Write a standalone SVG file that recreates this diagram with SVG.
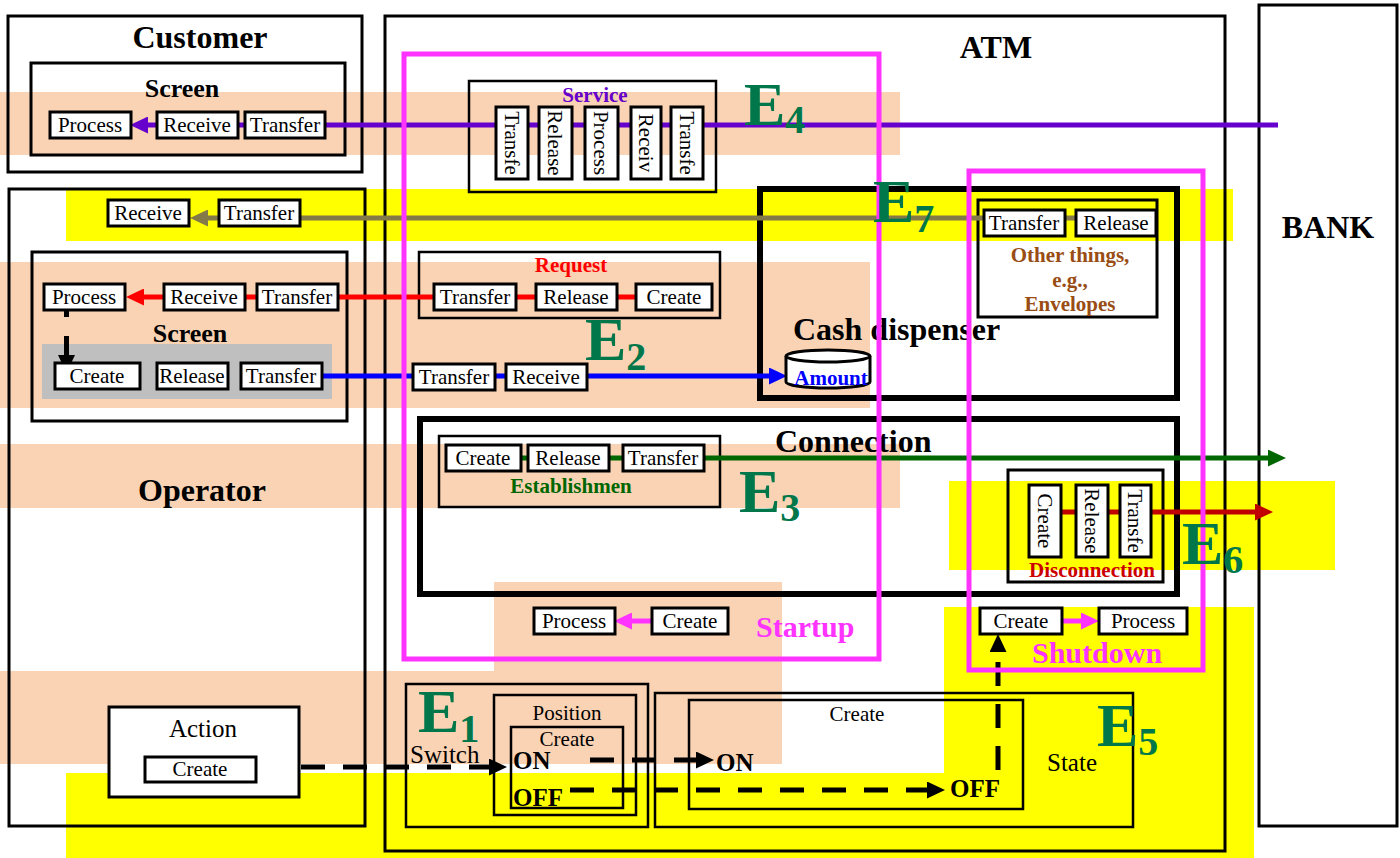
<svg xmlns="http://www.w3.org/2000/svg" width="1400" height="858" viewBox="0 0 1400 858" font-family="'Liberation Serif', 'DejaVu Serif', serif">
<style>
text, tspan{font-family:'Liberation Serif','DejaVu Serif',serif}
.peach{fill:#F9D3B3}
.yel{fill:#FFFF00}
.c{fill:none;stroke:#000;stroke-width:3}
.thin{fill:none;stroke:#000;stroke-width:2.5}
.thick{fill:none;stroke:#000;stroke-width:6}
.mag{fill:none;stroke:#FF33FF;stroke-width:5}
.b{fill:#fff;stroke:#000;stroke-width:3}
.t{font-size:21px;text-anchor:middle;fill:#000}
.v{font-size:21px;text-anchor:middle;dominant-baseline:central;fill:#000}
.ttl{font-size:32px;font-weight:bold;fill:#000}
.mid{text-anchor:middle}
.lab{font-size:21px;font-weight:bold;text-anchor:middle}
.E{font-size:62px;font-weight:bold;fill:#00774A}
.S{font-size:40px;font-weight:bold;fill:#00774A}
.oo{font-size:25px;font-weight:bold;fill:#000}
.ln{fill:none;stroke-width:5}
.dash{fill:none;stroke:#000;stroke-width:5;stroke-dasharray:24 18}
</style>
<defs>
<marker id="aP" viewBox="0 0 18 17" markerWidth="18" markerHeight="17" refX="4" refY="8.5" orient="auto" markerUnits="userSpaceOnUse"><path d="M0,0L18,8.5L0,17z" fill="#6600CC"/></marker>
<marker id="aO" viewBox="0 0 18 17" markerWidth="18" markerHeight="17" refX="4" refY="8.5" orient="auto" markerUnits="userSpaceOnUse"><path d="M0,0L18,8.5L0,17z" fill="#847A47"/></marker>
<marker id="aR" viewBox="0 0 18 17" markerWidth="18" markerHeight="17" refX="4" refY="8.5" orient="auto" markerUnits="userSpaceOnUse"><path d="M0,0L18,8.5L0,17z" fill="#FF0000"/></marker>
<marker id="aB" viewBox="0 0 18 17" markerWidth="18" markerHeight="17" refX="4" refY="8.5" orient="auto" markerUnits="userSpaceOnUse"><path d="M0,0L18,8.5L0,17z" fill="#0000FF"/></marker>
<marker id="aG" viewBox="0 0 18 17" markerWidth="18" markerHeight="17" refX="4" refY="8.5" orient="auto" markerUnits="userSpaceOnUse"><path d="M0,0L18,8.5L0,17z" fill="#006600"/></marker>
<marker id="aD" viewBox="0 0 18 17" markerWidth="18" markerHeight="17" refX="4" refY="8.5" orient="auto" markerUnits="userSpaceOnUse"><path d="M0,0L18,8.5L0,17z" fill="#C00000"/></marker>
<marker id="aM" viewBox="0 0 18 17" markerWidth="18" markerHeight="17" refX="4" refY="8.5" orient="auto" markerUnits="userSpaceOnUse"><path d="M0,0L18,8.5L0,17z" fill="#FF33FF"/></marker>
<marker id="aK" viewBox="0 0 18 17" markerWidth="18" markerHeight="17" refX="4" refY="8.5" orient="auto" markerUnits="userSpaceOnUse"><path d="M0,0L18,8.5L0,17z" fill="#000"/></marker>
</defs>
<rect width="1400" height="858" fill="#fff"/>
<g id="bands">
<rect class="peach" x="0" y="92" width="900" height="63"/>
<rect class="yel" x="66" y="189" width="1167" height="52"/>
<rect class="peach" x="0" y="262" width="870" height="146"/>
<rect class="peach" x="0" y="444" width="900" height="64"/>
<rect class="peach" x="494" y="582" width="288" height="182"/>
<rect class="peach" x="0" y="671" width="782" height="93"/>
<rect class="yel" x="949" y="481" width="386" height="89"/>
<rect class="yel" x="944" y="607" width="310" height="251"/>
<rect class="yel" x="66" y="773" width="1188" height="85"/>
</g>
<g id="containers">
<g id="customer"><rect class="c" x="8" y="16" width="354" height="156"/><text class="ttl mid" x="200" y="48">Customer</text></g>
<g id="customer-screen"><rect class="c" x="31" y="63" width="314" height="92"/><text class="ttl mid" x="182" y="97" style="font-size:26px">Screen</text></g>
<g id="operator"><rect class="c" x="9" y="189" width="356" height="637"/><text class="ttl mid" x="202" y="501">Operator</text></g>
<g id="operator-screen"><rect class="c" x="32" y="252" width="315" height="169"/><rect x="42" y="344" width="290" height="55" fill="#BFBFBF"/><text class="ttl mid" x="190" y="342" style="font-size:26px">Screen</text></g>
<g id="atm"><rect class="c" x="385" y="16" width="840" height="835"/><text class="ttl mid" x="996" y="58">ATM</text></g>
<g id="bank"><rect class="c" x="1259" y="5" width="138" height="821"/><text class="ttl mid" x="1328" y="238">BANK</text></g>
<g id="service"><rect class="thin" x="469" y="81" width="247" height="111"/><text class="lab" x="595" y="102" fill="#6600CC">Service</text></g>
<g id="cash-dispenser"><rect class="thick" x="760" y="189" width="417" height="209"/><text class="ttl" x="793" y="340">Cash dispenser</text></g>
<g id="other-things"><rect class="c" x="978" y="200" width="179" height="117"/><text class="lab" fill="#994D14"><tspan x="1070" y="262">Other things,</tspan><tspan x="1070" y="287">e.g.,</tspan><tspan x="1070" y="311">Envelopes</tspan></text></g>
<g id="request"><rect class="thin" x="419" y="252" width="301" height="66"/><text class="lab" x="571" y="272" fill="#FF0000">Request</text></g>
<g id="connection"><rect class="thick" x="420" y="419" width="757" height="175"/><text class="ttl" x="775" y="452">Connection</text></g>
<g id="establishment"><rect class="thin" x="439" y="436" width="281" height="71"/><text class="lab" x="571" y="493" fill="#006600">Establishmen</text></g>
<g id="disconnection"><rect class="c" x="1008" y="470" width="155" height="112"/><text class="lab" x="1092" y="577" fill="#CC0000">Disconnection</text></g>
<g id="action"><rect class="b" x="109" y="707" width="190" height="90"/><text class="t" x="203" y="737" style="font-size:25px">Action</text></g>
<g id="switch"><rect class="thin" x="406" y="684" width="242" height="143"/><text x="410" y="763" style="font-size:25px">Switch</text></g>
<g id="position"><rect class="thin" x="494" y="695" width="142" height="120"/><text class="t" x="567" y="720">Position</text></g>
<g id="position-create"><rect class="thin" x="511" y="727" width="112" height="81"/><text class="t" x="567" y="746">Create</text><text class="oo" x="513" y="769">ON</text><text class="oo" x="513" y="806">OFF</text></g>
<g id="state"><rect class="thin" x="655" y="693" width="478" height="134"/><text x="1047" y="771" style="font-size:25px">State</text></g>
<g id="state-create"><rect class="thin" x="689" y="700" width="334" height="109"/><text class="t" x="857" y="721">Create</text><text class="oo" x="716" y="771">ON</text><text class="oo" x="950" y="797">OFF</text></g>
</g>
<g id="connectors">
<line class="ln" x1="1278" y1="125" x2="144" y2="125" stroke="#6600CC" marker-end="url(#aP)"/>
<line class="ln" x1="1076" y1="218" x2="204" y2="218" stroke="#847A47" marker-end="url(#aO)"/>
<line class="ln" x1="636" y1="297" x2="140" y2="297" stroke="#FF0000" marker-end="url(#aR)"/>
<line class="ln" x1="322" y1="376" x2="773" y2="376" stroke="#0000FF" marker-end="url(#aB)"/>
<line class="ln" x1="521" y1="458" x2="1272" y2="458" stroke="#006600" marker-end="url(#aG)"/>
<line class="ln" x1="1061" y1="512" x2="1259" y2="512" stroke="#C00000" marker-end="url(#aD)"/>
<line class="ln" x1="652" y1="621" x2="628" y2="621" stroke="#FF33FF" marker-end="url(#aM)"/>
<line class="ln" x1="1062" y1="621" x2="1085" y2="621" stroke="#FF33FF" marker-end="url(#aM)"/>
<line class="dash" x1="301" y1="767" x2="493" y2="767" marker-end="url(#aK)"/>
<line class="dash" x1="590" y1="760" x2="700" y2="760" marker-end="url(#aK)"/>
<line class="dash" x1="570" y1="790" x2="931" y2="790" marker-end="url(#aK)"/>
<line class="dash" x1="998" y1="770" x2="998" y2="648" marker-end="url(#aK)"/>
<line fill="none" stroke="#000" stroke-width="5" stroke-dasharray="7 19 40" x1="66.5" y1="310" x2="66.5" y2="359" marker-end="url(#aK)"/>
</g>
<g id="amount"><path d="M786,356v26a42,6 0 0 0 84,0v-26" fill="#fff" stroke="#000" stroke-width="3"/><ellipse cx="828" cy="356" rx="42" ry="6" fill="#fff" stroke="#000" stroke-width="3"/><text class="lab" x="831" y="385" fill="#0000FF">Amount</text></g>
<g id="cust-process"><rect class="b" x="50" y="112" width="81" height="26"/><text class="t" x="90" y="132">Process</text></g>
<g id="cust-receive"><rect class="b" x="157" y="112" width="81" height="26"/><text class="t" x="197" y="132">Receive</text></g>
<g id="cust-transfer"><rect class="b" x="245" y="112" width="80" height="26"/><text class="t" x="285" y="132">Transfer</text></g>
<g id="op-receive"><rect class="b" x="108" y="200" width="81" height="26"/><text class="t" x="148" y="220">Receive</text></g>
<g id="op-transfer"><rect class="b" x="219" y="200" width="81" height="26"/><text class="t" x="259" y="220">Transfer</text></g>
<g id="ops-process"><rect class="b" x="44" y="284" width="81" height="26"/><text class="t" x="84" y="304">Process</text></g>
<g id="ops-receive"><rect class="b" x="164" y="284" width="81" height="26"/><text class="t" x="204" y="304">Receive</text></g>
<g id="ops-transfer"><rect class="b" x="257" y="284" width="81" height="26"/><text class="t" x="297" y="304">Transfer</text></g>
<g id="ops-create"><rect class="b" x="55" y="363" width="85" height="26"/><text class="t" x="97" y="383">Create</text></g>
<g id="ops-release"><rect class="b" x="157" y="363" width="71" height="26"/><text class="t" x="192" y="383">Release</text></g>
<g id="ops-transfer2"><rect class="b" x="241" y="363" width="81" height="26"/><text class="t" x="281" y="383">Transfer</text></g>
<g id="svc-1"><rect class="b" x="496" y="107" width="32" height="72"/><text class="v" transform="translate(512,143) rotate(90)">Transfe</text></g>
<g id="svc-2"><rect class="b" x="539" y="107" width="33" height="72"/><text class="v" transform="translate(555,143) rotate(90)">Release</text></g>
<g id="svc-3"><rect class="b" x="585" y="107" width="33" height="72"/><text class="v" transform="translate(601,143) rotate(90)">Process</text></g>
<g id="svc-4"><rect class="b" x="631" y="107" width="30" height="72"/><text class="v" transform="translate(646,143) rotate(90)">Receiv</text></g>
<g id="svc-5"><rect class="b" x="671" y="107" width="32" height="72"/><text class="v" transform="translate(687,143) rotate(90)">Transfe</text></g>
<g id="ot-transfer"><rect class="b" x="984" y="210" width="81" height="26"/><text class="t" x="1024" y="230">Transfer</text></g>
<g id="ot-release"><rect class="b" x="1076" y="210" width="80" height="26"/><text class="t" x="1116" y="230">Release</text></g>
<g id="req-transfer"><rect class="b" x="434" y="284" width="82" height="26"/><text class="t" x="475" y="304">Transfer</text></g>
<g id="req-release"><rect class="b" x="536" y="284" width="81" height="26"/><text class="t" x="576" y="304">Release</text></g>
<g id="req-create"><rect class="b" x="636" y="284" width="76" height="26"/><text class="t" x="674" y="304">Create</text></g>
<g id="blue-transfer"><rect class="b" x="413" y="364" width="82" height="26"/><text class="t" x="454" y="384">Transfer</text></g>
<g id="blue-receive"><rect class="b" x="506" y="364" width="81" height="26"/><text class="t" x="546" y="384">Receive</text></g>
<g id="est-create"><rect class="b" x="446" y="445" width="75" height="26"/><text class="t" x="483" y="465">Create</text></g>
<g id="est-release"><rect class="b" x="528" y="445" width="81" height="26"/><text class="t" x="568" y="465">Release</text></g>
<g id="est-transfer"><rect class="b" x="623" y="445" width="81" height="26"/><text class="t" x="663" y="465">Transfer</text></g>
<g id="dis-create"><rect class="b" x="1029" y="485" width="32" height="72"/><text class="v" transform="translate(1045,521) rotate(90)">Create</text></g>
<g id="dis-release"><rect class="b" x="1076" y="485" width="32" height="72"/><text class="v" transform="translate(1092,521) rotate(90)">Release</text></g>
<g id="dis-transfer"><rect class="b" x="1120" y="485" width="31" height="72"/><text class="v" transform="translate(1135,521) rotate(90)">Transfe</text></g>
<g id="start-process"><rect class="b" x="534" y="608" width="81" height="26"/><text class="t" x="574" y="628">Process</text></g>
<g id="start-create"><rect class="b" x="652" y="608" width="76" height="26"/><text class="t" x="690" y="628">Create</text></g>
<g id="shut-create"><rect class="b" x="980" y="608" width="82" height="26"/><text class="t" x="1021" y="628">Create</text></g>
<g id="shut-process"><rect class="b" x="1099" y="608" width="88" height="26"/><text class="t" x="1143" y="628">Process</text></g>
<g id="action-create"><rect class="b" x="145" y="757" width="111" height="25"/><text class="t" x="200" y="776">Create</text></g>
<g id="startup"><rect class="mag" x="404" y="54" width="475" height="605"/><text x="756" y="637" style="font-size:30px;font-weight:bold;fill:#FF33FF">Startup</text></g>
<g id="shutdown"><rect class="mag" x="969" y="171" width="234" height="499"/><text x="1032" y="663" style="font-size:30px;font-weight:bold;fill:#FF33FF">Shutdown</text></g>
<g id="events">
<text class="E" x="744" y="125">E<tspan class="S" dy="8">4</tspan></text>
<text class="E" x="873" y="222">E<tspan class="S" dy="10">7</tspan></text>
<text class="E" x="585" y="360">E<tspan class="S" dy="10">2</tspan></text>
<text class="E" x="739" y="512">E<tspan class="S" dy="9">3</tspan></text>
<text class="E" x="1182" y="564">E<tspan class="S" dy="9">6</tspan></text>
<text class="E" x="1097" y="746">E<tspan class="S" dy="9">5</tspan></text>
<text class="E" x="418" y="732">E<tspan class="S" dy="10">1</tspan></text>
</g>
</svg>
